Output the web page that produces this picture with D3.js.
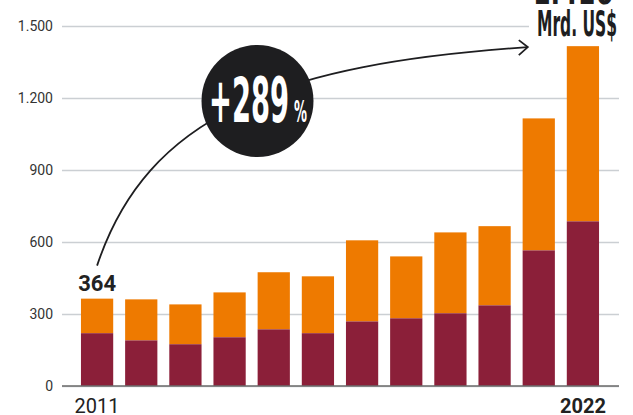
<!DOCTYPE html>
<html>
<head>
<meta charset="utf-8">
<script src="https://cdn.jsdelivr.net/npm/d3@7"></script>
<style>
  html, body { margin: 0; padding: 0; background: #fff; }
  svg { display: block; }
</style>
</head>
<body>
<svg id="chart" width="633" height="415"></svg>
<script>
// Jahre und Werte (Mrd. US$)
const years = [2011, 2012, 2013, 2014, 2015, 2016, 2017, 2018, 2019, 2020, 2021, 2022];
const baseValues = [220, 190, 174, 203, 236, 220, 269, 282, 303, 336, 565, 686];
const topValues  = [144, 171, 166, 187, 238, 237, 338, 258, 337, 330, 550, 730];
const yTicks = [0, 300, 600, 900, 1200, 1500];
const changeLabel = "+289";
const unitLabel = "Mrd. US$";

const totals = years.map((_, i) => baseValues[i] + topValues[i]);
const fmt = d3.formatLocale({ decimal: ",", thousands: ".", grouping: [3], currency: ["", " US$"] }).format(",d");

const svg = d3.select("#chart");
const colBase = "#8b1f39";
const colTop = "#ee7a00";

const x = d3.scaleBand().domain(years).range([75, 605]).paddingInner(0.27).paddingOuter(0.135);
const y = d3.scaleLinear().domain([0, 1500]).range([386, 26]);

const gridLeft = 62, gridRight = 619;

// Gitterlinien
const yAxis = d3.axisLeft(y).tickValues(yTicks).tickFormat(fmt).tickSize(-(gridRight - gridLeft)).tickPadding(9);
const gAxis = svg.append("g").attr("transform", `translate(${gridLeft},0)`).call(yAxis);
gAxis.select(".domain").remove();
gAxis.selectAll(".tick line").attr("stroke", "#cbcfd3").attr("stroke-width", 1.5);
gAxis.selectAll(".tick text")
  .attr("font-family", "Roboto, 'Liberation Sans', sans-serif")
  .attr("font-size", 14).attr("fill", "#333")
  .attr("x", 53 - gridLeft);

// Gestapelte Balken
const stack = years.map((yr, i) => ({ yr, base: baseValues[i], top: topValues[i] }));
svg.append("g").selectAll("rect.top").data(stack).join("rect")
  .attr("x", d => x(d.yr)).attr("width", x.bandwidth())
  .attr("y", d => y(d.base + d.top)).attr("height", d => y(d.base) - y(d.base + d.top))
  .attr("fill", colTop);
svg.append("g").selectAll("rect.base").data(stack).join("rect")
  .attr("x", d => x(d.yr)).attr("width", x.bandwidth())
  .attr("y", d => y(d.base)).attr("height", d => y(0) - y(d.base))
  .attr("fill", colBase);

// Nulllinie
svg.append("line").attr("x1", gridLeft).attr("x2", gridRight)
  .attr("y1", y(0)).attr("y2", y(0)).attr("stroke", "#6b6b6b").attr("stroke-width", 1.6);

// Jahresbeschriftung (erstes und letztes Jahr)
const first = years[0], last = years[years.length - 1];
const cx = yr => x(yr) + x.bandwidth() / 2;
svg.append("text").attr("x", cx(first)).attr("y", 412.5).attr("text-anchor", "middle")
  .attr("font-family", "Roboto, 'Liberation Sans', sans-serif").attr("font-size", 20)
  .attr("fill", "#222").text(first);
svg.append("text").attr("x", cx(last)).attr("y", 412.5).attr("text-anchor", "middle")
  .attr("font-family", "Roboto, 'Liberation Sans', sans-serif").attr("font-size", 20)
  .attr("font-weight", "bold").attr("fill", "#222").text(last);

// Wert 2011
svg.append("text").attr("x", cx(first)).attr("y", y(totals[0]) - 8).attr("text-anchor", "middle")
  .attr("font-family", "Roboto, 'Liberation Sans', sans-serif").attr("font-size", 22)
  .attr("font-weight", "bold").attr("fill", "#222").text(totals[0]);

// Wert 2022 mit Einheit
const condensed = "'DejaVu Sans Condensed', 'Liberation Sans Narrow', Roboto, sans-serif";
svg.append("rect").attr("x", 529).attr("y", 0).attr("width", 95).attr("height", 40).attr("fill", "#fff");
svg.append("text").attr("x", 533).attr("y", 4)
  .attr("font-family", condensed).attr("font-weight", "bold").attr("font-size", 36)
  .attr("textLength", 80).attr("lengthAdjust", "spacingAndGlyphs")
  .attr("fill", "#1e1e20").text(fmt(totals[totals.length - 1]));
svg.append("text").attr("x", 537).attr("y", 36)
  .attr("font-family", condensed).attr("font-weight", "bold").attr("font-size", 36)
  .attr("textLength", 80).attr("lengthAdjust", "spacingAndGlyphs")
  .attr("fill", "#1e1e20").text(unitLabel);

// Pfeil von 2011 nach 2022
const p0 = [cx(first), y(totals[0]) - 33];
const p3 = [x(last) - 39, y(totals[totals.length - 1]) + 1];
const c1 = [p0[0] + 50, p0[1] - 150];
const c2 = [p3[0] - 250, p3[1] + 17];
const path = d3.path();
path.moveTo(...p0);
path.bezierCurveTo(...c1, ...c2, ...p3);
svg.append("path").attr("d", path.toString()).attr("fill", "none")
  .attr("stroke", "#1e1e20").attr("stroke-width", 1.8);
svg.append("path")
  .attr("d", `M${p3[0] - 9},${p3[1] - 7} L${p3[0]},${p3[1]} L${p3[0] - 9},${p3[1] + 8}`)
  .attr("fill", "none").attr("stroke", "#1e1e20").attr("stroke-width", 1.8);

// Kreis mit Veränderung
const circ = { x: 257.5, y: 101, r: 56 };
svg.append("circle").attr("cx", circ.x).attr("cy", circ.y).attr("r", circ.r).attr("fill", "#1e1e20");
svg.append("text").attr("x", 209).attr("y", 122)
  .attr("font-family", condensed).attr("font-weight", "bold").attr("font-size", 62)
  .attr("textLength", 80).attr("lengthAdjust", "spacingAndGlyphs")
  .attr("fill", "#fff").text(changeLabel);
svg.append("text").attr("x", 294).attr("y", 122)
  .attr("font-family", condensed).attr("font-weight", "bold").attr("font-size", 30)
  .attr("textLength", 13).attr("lengthAdjust", "spacingAndGlyphs")
  .attr("fill", "#fff").text("%");
</script>
</body>
</html>
